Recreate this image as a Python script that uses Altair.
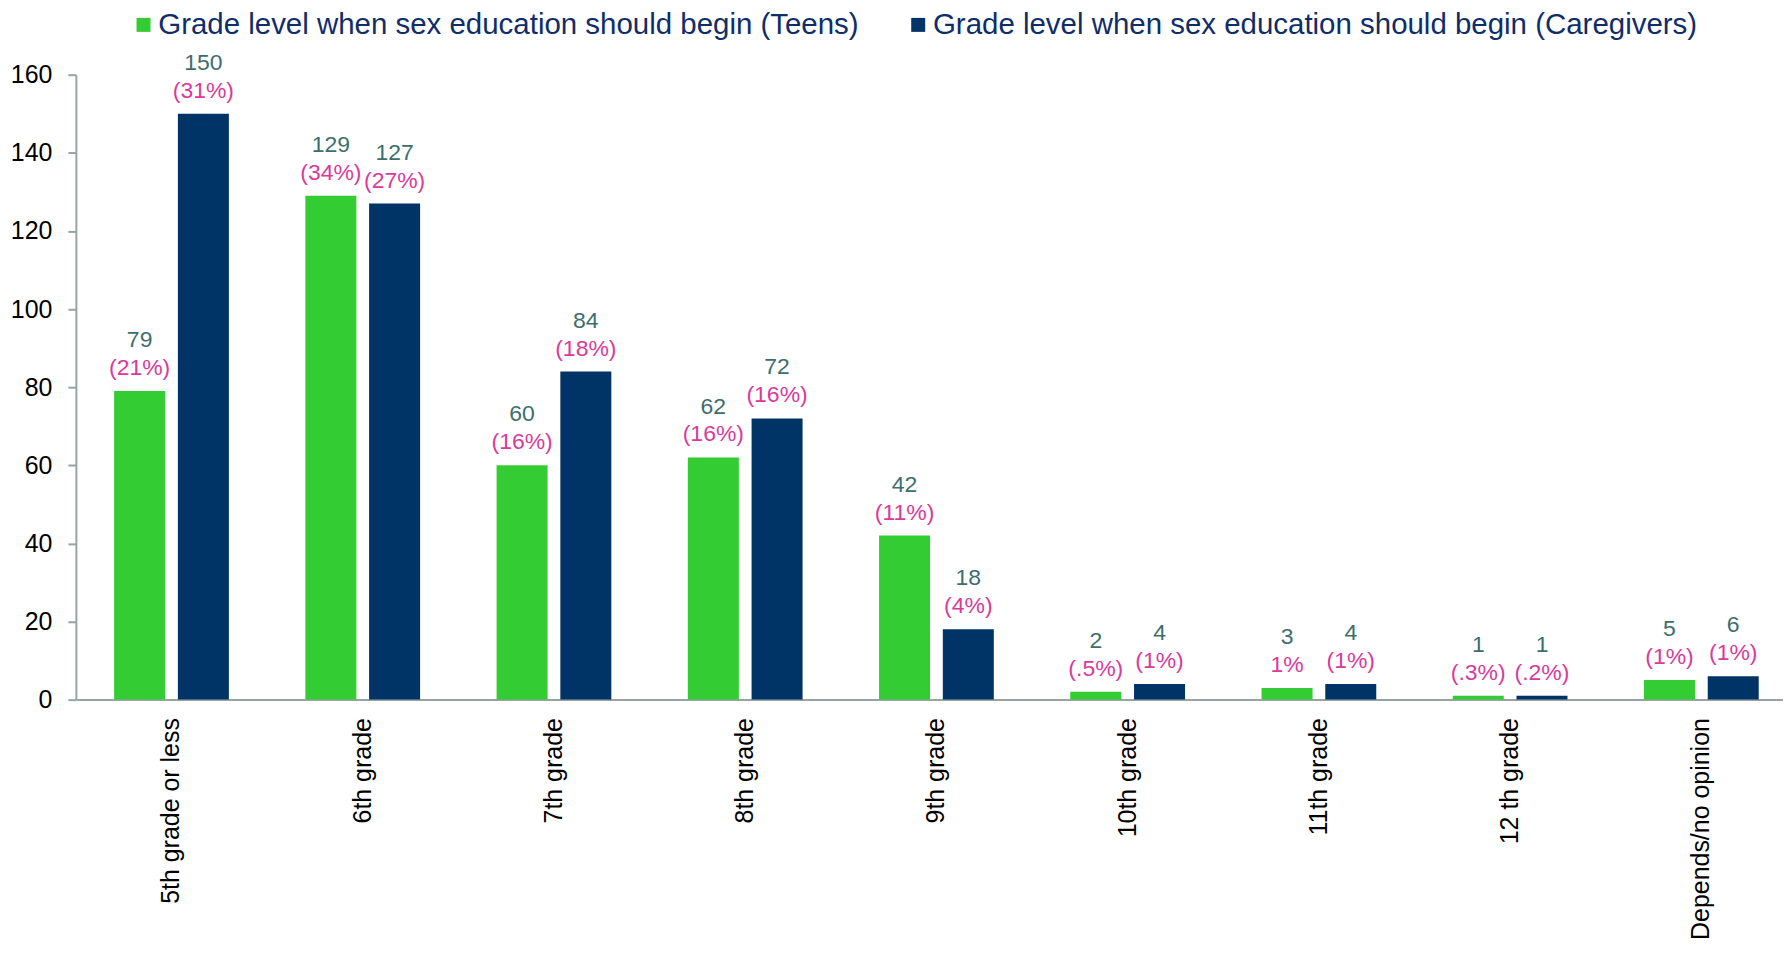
import altair as alt
import pandas as pd

grades = ["5th grade or less", "6th grade", "7th grade", "8th grade", "9th grade",
          "10th grade", "11th grade", "12 th grade", "Depends/no opinion"]
series = ["Grade level when sex education should begin (Teens)",
          "Grade level when sex education should begin (Caregivers)"]
teens = [79, 129, 60, 62, 42, 2, 3, 1, 5]
caregivers = [150, 127, 84, 72, 18, 4, 4, 1, 6]
teens_pct = ["(21%)", "(34%)", "(16%)", "(16%)", "(11%)", "(.5%)", "1%", "(.3%)", "(1%)"]
care_pct = ["(31%)", "(27%)", "(18%)", "(16%)", "(4%)", "(1%)", "(1%)", "(.2%)", "(1%)"]
y_ticks = [0, 20, 40, 60, 80, 100, 120, 140, 160]

rows = []
for g, v, p in zip(grades, teens, teens_pct):
    rows.append({"grade": g, "series": series[0], "value": v, "num": str(v), "pct": p})
for g, v, p in zip(grades, caregivers, care_pct):
    rows.append({"grade": g, "series": series[1], "value": v, "num": str(v), "pct": p})
df = pd.DataFrame(rows)

FONT = "Liberation Sans"
GREEN = "#33cc33"
NAVY = "#003366"
AXIS_GREY = "#98a4a4"

base = alt.Chart(df).encode(
    x=alt.X("grade:N", sort=grades,
            scale=alt.Scale(range=[0, 1724], paddingInner=0.4, paddingOuter=0.2),
            axis=alt.Axis(title=None, labelAngle=-90, ticks=False, labelPadding=18,
                          labelFontSize=25, labelFont=FONT, labelColor="black",
                          labelLimit=0, labelOverlap=False,
                          domainColor=AXIS_GREY, domainWidth=2)),
    xOffset=alt.XOffset("series:N", sort=series,
                        scale=alt.Scale(paddingInner=0.2, paddingOuter=0)),
    y=alt.Y("value:Q", scale=alt.Scale(domain=[0, 160], nice=False),
            axis=alt.Axis(title=None, values=y_ticks, grid=False, labelFontSize=25,
                          labelFont=FONT, labelColor="black", labelPadding=16,
                          tickSize=8, tickWidth=2, tickColor=AXIS_GREY,
                          domainColor=AXIS_GREY, domainWidth=2)),
)

bars = base.mark_bar().encode(
    color=alt.Color("series:N", sort=series,
                    scale=alt.Scale(domain=series, range=[GREEN, NAVY]),
                    legend=alt.Legend(orient="none", legendX=53, legendY=-65,
                                      direction="horizontal", columns=2, title=None,
                                      symbolType="square", symbolSize=196,
                                      symbolStrokeWidth=0, labelFontSize=29.5,
                                      labelFont=FONT, labelColor="#0f2d6b",
                                      labelOffset=0, columnPadding=44, padding=0,
                                      labelLimit=0))
)

nums = base.mark_text(baseline="alphabetic", dy=-44, fontSize=23, font=FONT,
                      color="#3d6e6e").encode(text="num:N")
pcts = base.mark_text(baseline="alphabetic", dy=-16, fontSize=23, font=FONT,
                      color="#d93a9b").encode(text="pct:N")

chart = alt.layer(bars, nums, pcts).properties(
    width=1710, height=626,
    padding={"left": 68, "top": 66, "right": 0, "bottom": 244},
    autosize="none",
).configure_view(stroke=None)

chart.save("out.html", embed_options={"renderer": "svg", "actions": False})
